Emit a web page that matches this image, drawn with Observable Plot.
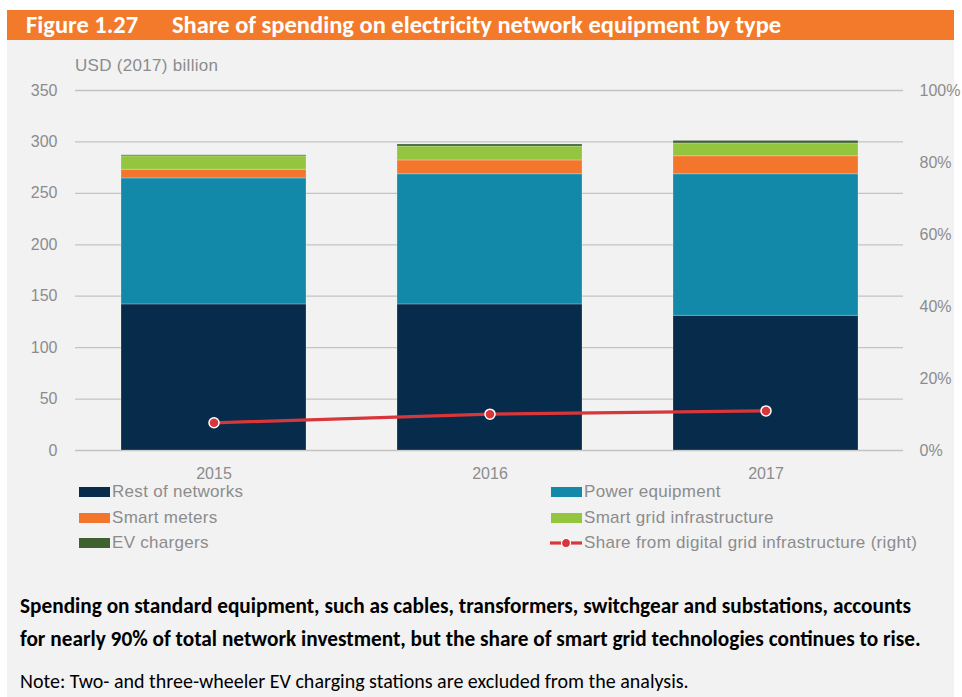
<!DOCTYPE html>
<html>
<head>
<meta charset="utf-8">
<script src="https://cdn.jsdelivr.net/npm/d3@7"></script>
<script src="https://cdn.jsdelivr.net/npm/@observablehq/plot@0.6"></script>
<style>
  html, body { margin: 0; padding: 0; background: #ffffff; }
  #page { position: relative; width: 962px; height: 697px; overflow: hidden; background: #ffffff; }
  #panel { position: absolute; left: 7px; top: 40px; width: 947px; height: 657px; background: #f2f2f2; }
  #titlebar { position: absolute; left: 7px; top: 10px; width: 947px; height: 30px; background: #f47a2b; }
  .title { position: absolute; top: 10px; height: 30px; line-height: 30px; color: #ffffff;
           font-family: Carlito, Lato, "Open Sans", sans-serif; font-weight: bold; font-size: 24.5px; white-space: nowrap; }
  #chart { position: absolute; left: 0; top: 40px; }
  .gray { font-family: "Liberation Sans", Arial, sans-serif; color: #8c8c8c; font-size: 17px; letter-spacing: 0.3px; }
  #ylabel { position: absolute; left: 75px; top: 56px; }
  .leg { position: absolute; white-space: nowrap; line-height: 18px; }
  .sw { position: absolute; width: 31px; height: 10px; }
  .cap { position: absolute; left: 20px; font-family: Carlito, Lato, "Open Sans", sans-serif; color: #000; white-space: nowrap; line-height: 24px; }
</style>
</head>
<body>
<div id="page">
  <div id="panel"></div>
  <div id="titlebar"></div>
  <div class="title" style="left:26px;">Figure 1.27</div>
  <div class="title" style="left:172px;">Share of spending on electricity network equipment by type</div>
  <div id="ylabel" class="gray">USD (2017) billion</div>
  <div id="chart"></div>
  <div id="legend"></div>
  <div class="cap" style="top:594px; font-weight:bold; font-size:21.3px;">Spending on standard equipment, such as cables, transformers, switchgear and substations, accounts</div>
  <div class="cap" style="top:627px; font-weight:bold; font-size:21.3px;">for nearly 90% of total network investment, but the share of smart grid technologies continues to rise.</div>
  <div class="cap" style="top:669px; font-size:20px;">Note: Two- and three-wheeler EV charging stations are excluded from the analysis.</div>
</div>
<script>
// ---- data ----
const years = ["2015", "2016", "2017"];
const restOfNetworks = [142, 142, 131];
const powerEquipment = [122.5, 126.5, 137.5];
const smartMeters = [8.5, 13.5, 17.5];
const smartGridInfrastructure = [13, 13.5, 12.5];
const evChargers = [1, 2, 2.5];
const digitalShare = [7.7, 10.1, 11.0]; // percent, right axis
const leftTicks = [0, 50, 100, 150, 200, 250, 300, 350];
const rightTicks = [0, 20, 40, 60, 80, 100];
const seriesNames = ["Rest of networks", "Power equipment", "Smart meters", "Smart grid infrastructure", "EV chargers"];
const seriesColors = ["#062b4b", "#1389a9", "#f4762c", "#93c53f", "#3f6130"];
const lineName = "Share from digital grid infrastructure (right)";
const lineColor = "#d7363b";

const seriesValues = [restOfNetworks, powerEquipment, smartMeters, smartGridInfrastructure, evChargers];
const stackData = [];
seriesNames.forEach((s, i) => years.forEach((y, j) => stackData.push({year: y, series: s, value: seriesValues[i][j]})));
const shareData = years.map((y, j) => ({year: y, share: digitalShare[j]}));
const leftMax = 350;
const pctToLeft = p => p * leftMax / 100;

const font = '"Liberation Sans", Arial, sans-serif';

const chart = Plot.plot({
  width: 962,
  height: 445,
  marginLeft: 75,
  marginRight: 59,
  marginTop: 50,
  marginBottom: 35,
  style: {background: "transparent", fontFamily: font, fontSize: "16px", color: "#8c8c8c"},
  x: {domain: years, paddingInner: 0.33, paddingOuter: 0.165, label: null},
  y: {domain: [0, leftMax], label: null},
  color: {domain: seriesNames, range: seriesColors},
  marks: [
    Plot.gridY(leftTicks, {stroke: "#c3c3c3", strokeOpacity: 1, strokeWidth: 1.3}),
    Plot.barY(stackData, {x: "year", y: "value", fill: "series", stroke: "#ffffff", strokeOpacity: 0.3, strokeWidth: 0.8}),
    Plot.line(shareData, {x: "year", y: d => pctToLeft(d.share), stroke: lineColor, strokeWidth: 3.2}),
    Plot.dot(shareData, {x: "year", y: d => pctToLeft(d.share), r: 5, fill: lineColor, stroke: "#ffffff", strokeWidth: 1.5}),
    Plot.axisY(leftTicks, {anchor: "left", tickSize: 0, tickPadding: 18, label: null, fill: "#8c8c8c"}),
    Plot.axisY(rightTicks.map(pctToLeft), {anchor: "right", tickSize: 0, tickPadding: 16, label: null, fill: "#8c8c8c",
      tickFormat: d => Math.round(d * 100 / leftMax) + "%"}),
    Plot.axisX({tickSize: 0, tickPadding: 17, label: null, fill: "#8c8c8c"})
  ]
});
document.getElementById("chart").appendChild(chart);

// ---- legend ----
const legend = document.getElementById("legend");
const legItems = [
  {name: seriesNames[0], color: seriesColors[0], x: 79, y: 492},
  {name: seriesNames[1], color: seriesColors[1], x: 551, y: 492},
  {name: seriesNames[2], color: seriesColors[2], x: 79, y: 518},
  {name: seriesNames[3], color: seriesColors[3], x: 551, y: 518},
  {name: seriesNames[4], color: seriesColors[4], x: 79, y: 543},
  {name: lineName, color: lineColor, x: 551, y: 543, line: true}
];
legItems.forEach(it => {
  if (it.line) {
    const svg = document.createElementNS("http://www.w3.org/2000/svg", "svg");
    svg.setAttribute("width", 34); svg.setAttribute("height", 12);
    svg.style.position = "absolute"; svg.style.left = (it.x - 1) + "px"; svg.style.top = (it.y - 6) + "px";
    svg.innerHTML = `<line x1="0" y1="6" x2="32" y2="6" stroke="${it.color}" stroke-width="3.2"/><circle cx="16" cy="6" r="4.5" fill="${it.color}" stroke="#fff" stroke-width="1.2"/>`;
    legend.appendChild(svg);
  } else {
    const sw = document.createElement("div");
    sw.className = "sw"; sw.style.left = it.x + "px"; sw.style.top = (it.y - 5) + "px"; sw.style.background = it.color;
    legend.appendChild(sw);
  }
  const t = document.createElement("div");
  t.className = "leg gray"; t.textContent = it.name;
  t.style.left = (it.x + 33) + "px"; t.style.top = (it.y - 9) + "px";
  legend.appendChild(t);
});
</script>
</body>
</html>
